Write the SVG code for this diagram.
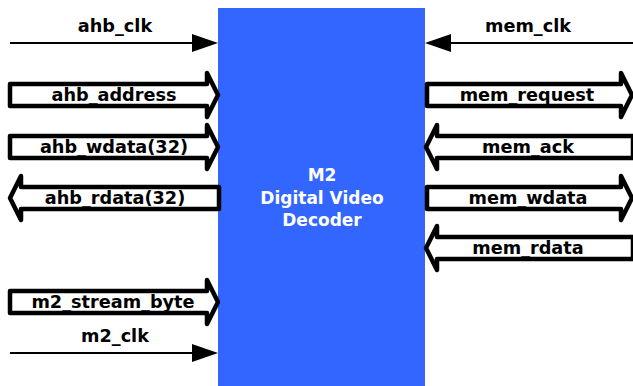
<svg xmlns="http://www.w3.org/2000/svg" width="633" height="386" viewBox="0 0 633 386">
<style>
text{font-family:"DejaVu Sans",Verdana,sans-serif;font-weight:bold;font-size:17.7px;text-anchor:middle;fill:#000}
.bus{fill:#fff;stroke:#000;stroke-width:4.5;stroke-linejoin:round}
.clk{stroke:#000;stroke-width:2;fill:none}
.head{fill:#000}
.core{fill:#3366FF}
.ctext{fill:#fff;font-size:17px}
</style>
<g id="decoder">
<rect class="core" x="218" y="8" width="207" height="378"/>
<text class="ctext" x="322" y="181">M2</text>
<text class="ctext" x="322" y="204">Digital Video</text>
<text class="ctext" x="322" y="226">Decoder</text>
</g>
<g id="connectors">
<g id="ahb_clk">
<line class="clk" x1="10" y1="43" x2="196" y2="43"/>
<polygon class="head" points="192,34 218,43 192,52"/>
<text x="115" y="32">ahb_clk</text>
</g>
<g id="ahb_address">
<polygon class="bus" points="10,84 207,84 207,73 218,95 207,117 207,106 10,106"/>
<text x="114" y="101">ahb_address</text>
</g>
<g id="ahb_wdata">
<polygon class="bus" points="10,136 207,136 207,125 218,147 207,169 207,158 10,158"/>
<text x="114" y="153">ahb_wdata(32)</text>
</g>
<g id="ahb_rdata">
<polygon class="bus" points="219,187 21,187 21,176 10,198 21,220 21,209 219,209"/>
<text x="115" y="204">ahb_rdata(32)</text>
</g>
<g id="m2_stream_byte">
<polygon class="bus" points="10,291 207,291 207,280 218,302 207,324 207,313 10,313"/>
<text x="113" y="308">m2_stream_byte</text>
</g>
<g id="m2_clk">
<line class="clk" x1="10" y1="353" x2="196" y2="353"/>
<polygon class="head" points="192,344 218,353 192,362"/>
<text x="115" y="342">m2_clk</text>
</g>
<g id="mem_clk">
<line class="clk" x1="633" y1="43" x2="447" y2="43"/>
<polygon class="head" points="451,34 425,43 451,52"/>
<text x="528" y="32">mem_clk</text>
</g>
<g id="mem_request">
<polygon class="bus" points="427,84 621,84 621,73 632,95 621,117 621,106 427,106"/>
<text x="527" y="101">mem_request</text>
</g>
<g id="mem_ack">
<polygon class="bus" points="633,136 437,136 437,125 426,147 437,169 437,158 633,158"/>
<text x="528" y="153">mem_ack</text>
</g>
<g id="mem_wdata">
<polygon class="bus" points="427,187 621,187 621,176 632,198 621,220 621,209 427,209"/>
<text x="528" y="204">mem_wdata</text>
</g>
<g id="mem_rdata">
<polygon class="bus" points="633,237 437,237 437,226 426,248 437,270 437,259 633,259"/>
<text x="528" y="254">mem_rdata</text>
</g>
</g>
</svg>
